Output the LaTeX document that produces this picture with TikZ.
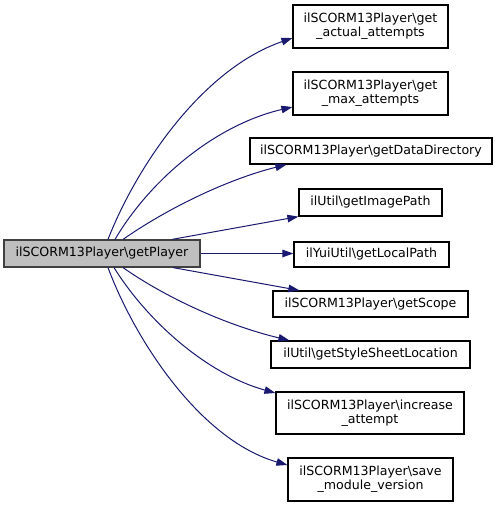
\documentclass[tikz,border=0pt]{standalone}
\usepackage{fontspec}
\setmainfont{DejaVu Sans}
\usetikzlibrary{arrows.meta,calc}
\definecolor{Edge}{HTML}{191970}
\definecolor{RootFill}{HTML}{BFBFBF}
\definecolor{RootLine}{HTML}{404040}
\tikzset{
  fn/.style={draw=black,fill=white,line width=1.2pt,align=center,inner sep=0pt,minimum height=26pt,font=\fontsize{12.6}{14}\selectfont},
  root/.style={fn,draw=RootLine,fill=RootFill},
  call/.style={-{Triangle[length=11pt,width=7.5pt]},draw=Edge,line width=1pt}
}
\newcommand{\bs}{\textbackslash}
\begin{document}
\begin{tikzpicture}[x=1pt,y=-1pt]
  \useasboundingbox (0,0) rectangle (499,507);
  \node[root,minimum width=196pt,minimum height=27pt] (main) at (102,253.5) {ilSCORM13Player\bs getPlayer};
  \node[fn,minimum width=155pt,minimum height=43pt] (n1) at (370.5,26.5) {ilSCORM13Player\bs get\\\_actual\_attempts};
  \node[fn,minimum width=155pt,minimum height=43pt] (n2) at (370.5,93.5) {ilSCORM13Player\bs get\\\_max\_attempts};
  \node[fn,minimum width=242pt] (n3) at (371,151) {ilSCORM13Player\bs getDataDirectory};
  \node[fn,minimum width=143pt,minimum height=27pt] (n4) at (370.5,202.5) {ilUtil\bs getImagePath};
  \node[fn,minimum width=155pt,minimum height=25pt] (n5) at (371.5,254.5) {ilYuiUtil\bs getLocalPath};
  \node[fn,minimum width=195pt] (n6) at (370.5,304) {ilSCORM13Player\bs getScope};
  \node[fn,minimum width=199pt,minimum height=27pt] (n7) at (370.5,354.5) {ilUtil\bs getStyleSheetLocation};
  \node[fn,minimum width=188pt,minimum height=42pt] (n8) at (370,413) {ilSCORM13Player\bs increase\\\_attempt};
  \node[fn,minimum width=165pt,minimum height=43pt] (n9) at (370.5,479.5) {ilSCORM13Player\bs save\\\_module\_version};
  % calls out of getPlayer
  \draw[call] ($(main.north)+(6,0)$) .. controls (135,170) and (200,70) .. ($(n1.west)+(0,11.5)$);
  \draw[call] ($(main.north)+(13,0)$) .. controls (150,180) and (215,125) .. ($(n2.west)+(0,13.5)$);
  \draw[call] ($(main.north)+(21,0)$) .. controls (165,210) and (225,180) .. ($(n3.south west)+(37,0)$);
  \draw[call] ($(main.north)+(70,0)$) -- (n4.south west);
  \draw[call] (main.east) -- (main.east -| n5.west);
  \draw[call] ($(main.south)+(71,0)$) -- ($(n6.north west)+(27,0)$);
  \draw[call] ($(main.south)+(21,0)$) .. controls (165,297) and (225,325) .. ($(n7.north west)+(19,0)$);
  \draw[call] ($(main.south)+(12,0)$) .. controls (150,325) and (210,375) .. ($(n8.west)+(0,-20)$);
  \draw[call] ($(main.south)+(6,0)$) .. controls (135,340) and (200,440) .. ($(n9.west)+(0,-14.5)$);
\end{tikzpicture}
\end{document}
